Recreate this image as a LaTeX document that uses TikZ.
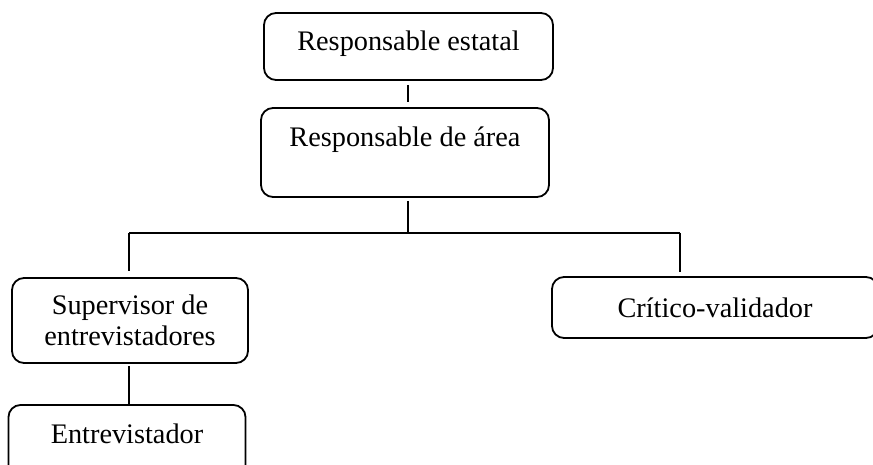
\documentclass[tikz,border=0pt]{standalone}
\usepackage{fontspec}
\setmainfont{Liberation Serif}
\usepackage{tikz}

\tikzset{
  box/.style={draw, line width=1.8pt, rounded corners=12pt, inner sep=0pt,
    align=center, font=\fontsize{28.3}{31}\selectfont,
    text height=19pt, text depth=10pt},
  link/.style={line width=2pt}
}

\begin{document}
\begin{tikzpicture}[x=1pt,y=-1pt]
\useasboundingbox (0,0) rectangle (873,465);
\clip (0,0) rectangle (873,465);

\node[box, minimum width=289pt, minimum height=67pt] (estatal) at (408.5,46.5) {Responsable estatal};
\node[box, minimum width=288pt, minimum height=89pt, text depth=30pt] (area) at (405,152.5) {Responsable de área};
\node[box, minimum width=236pt, minimum height=85pt, text height={}, text depth={}] (sup) at (130,320.5) {Supervisor de\\entrevistadores};
\node[box, minimum width=237pt, minimum height=80pt, text depth=23pt] (entrev) at (127,445) {Entrevistador};
\node[box, minimum width=326pt, minimum height=61pt, text depth=0pt] (critico) at (715,307.5) {Crítico-validador};

% lineas
\coordinate (busL) at (129,233);
\coordinate (busM) at (408,233);
\coordinate (busR) at (680,233);
\draw[link, shorten <=4pt, shorten >=5pt] (busM |- estatal.south) -- (busM |- area.north);
\draw[link, shorten <=3pt] (busM |- area.south) -- (busM);
\draw[link] (busL) -- (busR);
\draw[link, shorten >=6pt] (busL) -- (busL |- sup.north);
\draw[link, shorten >=4pt] (busR) -- (busR |- critico.north);
\draw[link, shorten <=2pt] (busL |- sup.south) -- (busL |- entrev.north);
\end{tikzpicture}
\end{document}
